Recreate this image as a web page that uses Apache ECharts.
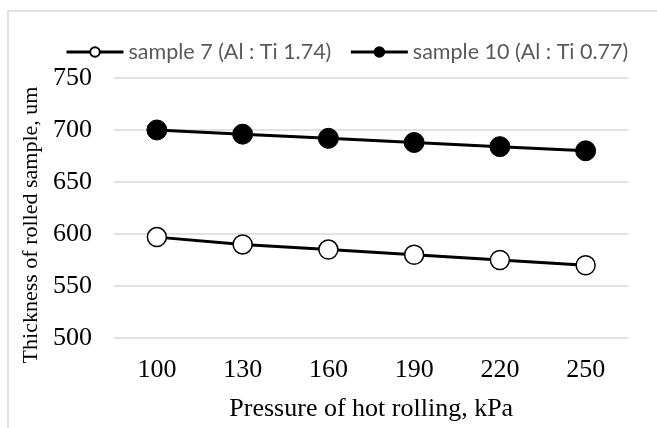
<!DOCTYPE html>
<html>
<head>
<meta charset="utf-8">
<script src="https://cdn.jsdelivr.net/npm/echarts@6/dist/echarts.min.js"></script>
<style>
  html, body { margin: 0; padding: 0; background: #fff; }
  #chart { width: 657px; height: 428px; }
</style>
</head>
<body>
<div id="chart"></div>
<script>
// pressure of hot rolling, kPa
const pressures = ['100', '130', '160', '190', '220', '250'];
// thickness of rolled sample, um
const sample7 = [597, 590, 585, 580, 575, 570];
const sample10 = [700, 696, 692, 688, 684, 680];
const seriesNames = ['sample 7 (Al : Ti 1.74)', 'sample 10 (Al : Ti 0.77)'];

const myChart = echarts.init(document.getElementById('chart'));

const serif = 'Liberation Serif';

const option = {
  backgroundColor: '#fff',
  animation: false,
  graphic: [
    {
      type: 'rect',
      shape: { x: 8, y: 11, width: 700, height: 460 },
      style: { fill: 'none', stroke: '#d9d9d9', lineWidth: 1.5 },
    },
  ],
  legend: {
    top: 36,
    left: 60,
    itemWidth: 57,
    itemHeight: 12,
    itemGap: 18,
    lineStyle: { width: 3 },
    textStyle: { fontFamily: 'Lato', fontSize: 21.5, color: '#595959' },
    data: seriesNames,
  },
  grid: { left: 114, right: 28.5, top: 78, bottom: 90 },
  xAxis: {
    type: 'category',
    data: pressures,
    name: 'Pressure of hot rolling, kPa',
    nameLocation: 'middle',
    nameGap: 58,
    nameTextStyle: { fontFamily: serif, fontSize: 26, color: '#000' },
    axisLine: { show: false },
    axisTick: { show: false },
    axisLabel: { fontFamily: serif, fontSize: 26, color: '#000', margin: 19 },
  },
  yAxis: {
    type: 'value',
    min: 500,
    max: 750,
    interval: 50,
    name: 'Thickness of rolled sample, um',
    nameLocation: 'middle',
    nameGap: 70,
    nameTextStyle: { fontFamily: serif, fontSize: 22, color: '#000', padding: [0, 34, 0, 0] },
    axisLine: { show: false },
    axisTick: { show: false },
    axisLabel: { fontFamily: serif, fontSize: 26, color: '#000', margin: 22 },
    splitLine: { lineStyle: { color: '#d9d9d9', width: 1.5 } },
  },
  series: [
    {
      name: seriesNames[0],
      type: 'line',
      data: sample7,
      symbol: 'circle',
      symbolSize: 19,
      lineStyle: { color: '#000', width: 3 },
      itemStyle: { color: '#fff', borderColor: '#000', borderWidth: 1.5 },
    },
    {
      name: seriesNames[1],
      type: 'line',
      data: sample10,
      symbol: 'circle',
      symbolSize: 20,
      lineStyle: { color: '#000', width: 3 },
      itemStyle: { color: '#000', borderColor: '#000', borderWidth: 1 },
    },
  ],
};

myChart.setOption(option);
</script>
</body>
</html>
